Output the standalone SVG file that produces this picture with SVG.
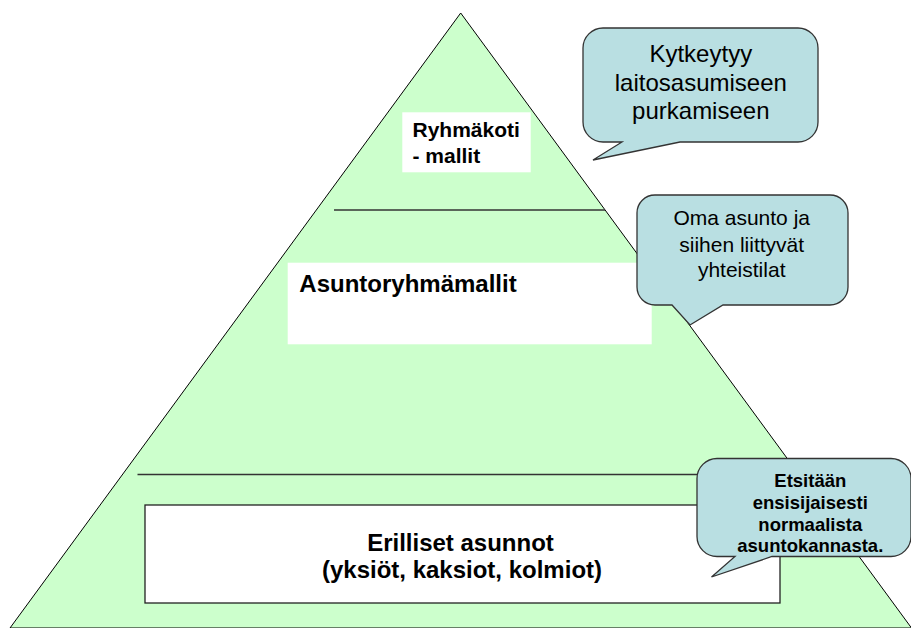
<svg xmlns="http://www.w3.org/2000/svg" width="911" height="628" viewBox="0 0 911 628">
<style>
.tri{fill:#CCFFCC;stroke:#000;stroke-width:1}
.div{stroke:#333;stroke-width:1.3;fill:none}
.wb{fill:#FFFFFF}
.wbb{fill:#FFFFFF;stroke:#222;stroke-width:1.3}
.bub{fill:#B9DFE2;stroke:#333;stroke-width:1.3}
.b{font-family:"Liberation Sans",Arial,sans-serif;font-weight:bold;fill:#000}
.r{font-family:"Liberation Sans",Arial,sans-serif;fill:#000}
</style>
<rect width="911" height="628" fill="#FFFFFF"/>
<g id="pyramid">
<polygon class="tri" points="460.7,13 10,628 911.5,628"/>
</g>
<g id="dividers">
<line class="div" x1="334" y1="210" x2="605" y2="210"/>
<line class="div" x1="137.5" y1="474.5" x2="700" y2="474.5"/>
</g>
<g id="level-top">
<rect class="wb" x="402.3" y="112.3" width="128.4" height="60"/>
<text class="b" font-size="21" x="412.5" y="137.3">Ryhmäkoti</text>
<text class="b" font-size="21" x="412.5" y="162.5">- mallit</text>
</g>
<g id="level-middle">
<rect class="wb" x="287.7" y="262.7" width="364" height="81.6"/>
<text class="b" font-size="24" x="299.3" y="291.7">Asuntoryhmämallit</text>
</g>
<g id="level-bottom">
<rect class="wbb" x="145" y="505" width="635" height="98"/>
<text class="b" font-size="24" x="460.5" y="550.5" text-anchor="middle">Erilliset asunnot</text>
<text class="b" font-size="24" x="462" y="578" text-anchor="middle">(yksiöt, kaksiot, kolmiot)</text>
</g>
<g id="callout-1">
<path class="bub" d="M603,28 H798 A20,20 0 0 1 818,48 V122 A20,20 0 0 1 798,142 H680 L593,160 L622,142 H603 A20,20 0 0 1 583,122 V48 A20,20 0 0 1 603,28 Z"/>
<text class="r" font-size="24" x="700.8" y="61.7" text-anchor="middle">Kytkeytyy</text>
<text class="r" font-size="24" x="700.8" y="90.5" text-anchor="middle">laitosasumiseen</text>
<text class="r" font-size="24" x="700.8" y="118.5" text-anchor="middle">purkamiseen</text>
</g>
<g id="callout-2">
<path class="bub" d="M655,195 H830 A18,18 0 0 1 848,213 V287 A18,18 0 0 1 830,305 H723 L690,325 L672,305 H655 A18,18 0 0 1 637,287 V213 A18,18 0 0 1 655,195 Z"/>
<text class="r" font-size="21" x="741.7" y="225" text-anchor="middle">Oma asunto ja</text>
<text class="r" font-size="21" x="741.7" y="251.5" text-anchor="middle">siihen liittyvät</text>
<text class="r" font-size="21" x="741.7" y="276.7" text-anchor="middle">yhteistilat</text>
</g>
<g id="callout-3">
<path class="bub" d="M717,458.5 H891 A20,20 0 0 1 911,478.5 V536.5 A20,20 0 0 1 891,556.5 H772 L711.5,577 L735,556.5 H717 A20,20 0 0 1 697,536.5 V478.5 A20,20 0 0 1 717,458.5 Z"/>
<text class="b" font-size="18.5" x="810.3" y="486.7" text-anchor="middle">Etsitään</text>
<text class="b" font-size="18.5" x="810.3" y="508.5" text-anchor="middle">ensisijaisesti</text>
<text class="b" font-size="18.5" x="810.3" y="530.5" text-anchor="middle">normaalista</text>
<text class="b" font-size="18.5" x="810.3" y="551.7" text-anchor="middle">asuntokannasta.</text>
</g>
</svg>
